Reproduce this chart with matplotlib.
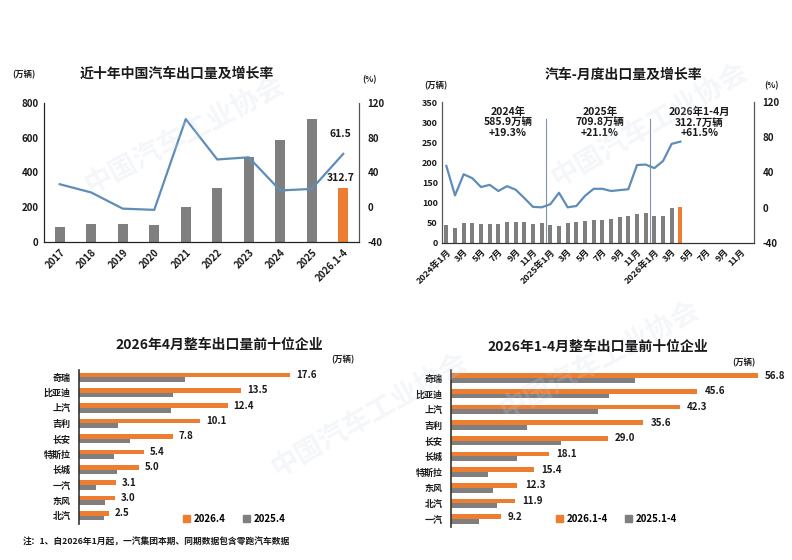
import numpy as np
import matplotlib
matplotlib.use("Agg")
import matplotlib.pyplot as plt
from matplotlib.patches import Patch

plt.rcParams['font.family'] = ['Noto Sans CJK SC', 'DejaVu Sans']
plt.rcParams['axes.unicode_minus'] = False

# ---- data ----
years = ['2017', '2018', '2019', '2020', '2021', '2022', '2023', '2024', '2025', '2026.1-4']
year_volume = [89, 104, 102, 99.5, 201.5, 311, 491, 585.9, 709.8, 312.7]
year_growth = [26.5, 17, -1.6, -3, 101.5, 55, 57.5, 19.3, 21.1, 61.5]

month_labels = []
for y in ['2024', '2025', '2026']:
    for m in range(1, 13):
        month_labels.append(f'{y}年{m}月' if m == 1 else f'{m}月')
month_volume = [44, 38, 50, 50, 48, 48, 46, 51, 53, 53, 48, 50,
                45, 43, 50, 51, 55, 58, 58, 60, 65, 66, 72, 75,
                68, 67, 88, 90]
month_growth = [47.5, 14, 38, 33.5, 23.5, 26, 19, 24.5, 20.5, 11, 1, 0.5,
                4, 17, 0.5, 2, 13.5, 21.5, 21.5, 19, 20, 21, 48.5, 49,
                45, 53, 72.5, 75]
period_notes = ['2024年\n585.9万辆\n+19.3%', '2025年\n709.8万辆\n+21.1%', '2026年1-4月\n312.7万辆\n+61.5%']

apr_names = ['奇瑞', '比亚迪', '上汽', '吉利', '长安', '特斯拉', '长城', '一汽', '东风', '北汽']
apr_2026 = [17.6, 13.5, 12.4, 10.1, 7.8, 5.4, 5.0, 3.1, 3.0, 2.5]
apr_2025 = [8.8, 7.85, 7.65, 3.25, 4.25, 2.95, 3.15, 1.45, 2.15, 2.05]

ytd_names = ['奇瑞', '比亚迪', '上汽', '吉利', '长安', '长城', '特斯拉', '东风', '北汽', '一汽']
ytd_2026 = [56.8, 45.6, 42.3, 35.6, 29.0, 18.1, 15.4, 12.3, 11.9, 9.2]
ytd_2025 = [34.1, 29.3, 27.2, 14.1, 20.4, 12.3, 6.9, 7.8, 8.5, 5.2]

GREY = '#7f7f7f'
ORANGE = '#ed7d31'
BLUE = '#5f8db8'
TXT = '#1a1a1a'

W, H = 792, 560
fig = plt.figure(figsize=(W / 100, H / 100), dpi=100)


def rect(x0, y0, x1, y1):
    return [x0 / W, 1 - y1 / H, (x1 - x0) / W, (y1 - y0) / H]


def ftext(x, y, s, **kw):
    fig.text(x / W, 1 - y / H, s, **kw)


# faint watermarks
for (wx, wy, rot) in [(185, 135, 28), (650, 125, 30), (370, 415, 30), (600, 360, 28)]:
    ftext(wx, wy, '中国汽车工业协会', fontsize=20, color='#c8d6e6', alpha=0.2,
          rotation=rot, ha='center', va='center', fontweight='bold', zorder=0)

# ---- chart 1: yearly ----
ax1 = fig.add_axes(rect(44, 103, 359, 242))
x = np.arange(len(years))
cols = [GREY] * (len(years) - 1) + [ORANGE]
ax1.bar(x, year_volume, width=0.32, color=cols, zorder=2)
ax1.set_xlim(-0.5, len(years) - 0.5)
ax1.set_ylim(0, 800)
ax1.set_yticks(range(0, 801, 200))
ax1.set_xticks(x)
ax1.set_xticklabels(years, rotation=45, ha='right', rotation_mode='anchor')
ax1.tick_params(length=0, labelsize=7, colors=TXT, pad=4)
for lab in ax1.get_xticklabels() + ax1.get_yticklabels():
    lab.set_fontweight('bold')
ax1b = ax1.twinx()
ax1b.plot(x, year_growth, color=BLUE, lw=1.6, zorder=3)
ax1b.set_ylim(-40, 120)
ax1b.set_yticks(range(-40, 121, 40))
ax1b.tick_params(length=0, labelsize=7, colors=TXT, pad=6)
for lab in ax1b.get_yticklabels():
    lab.set_fontweight('bold')
for a in (ax1, ax1b):
    a.spines['top'].set_visible(False)
    a.spines['left'].set_color('#222222')
    a.spines['bottom'].set_color('#222222')
    a.spines['right'].set_color('#555555')
    a.patch.set_alpha(0)
ax1b.annotate(f'{year_growth[-1]}', (x[-1], year_growth[-1]), xytext=(-2, 12),
              textcoords='offset points', ha='center', fontsize=7.5, fontweight='bold', color=TXT)
ax1.annotate(f'{year_volume[-1]}', (x[-1], year_volume[-1]), xytext=(-2, 5),
             textcoords='offset points', ha='center', fontsize=7.5, fontweight='bold', color=TXT)
ftext(177, 74, '近十年中国汽车出口量及增长率', fontsize=10, fontweight='bold', ha='center', va='center', color=TXT)
ftext(12, 75, '(万辆)', fontsize=6, fontweight='bold', ha='left', va='center', color=TXT)
ftext(362, 80, '(%)', fontsize=6, fontweight='bold', ha='left', va='center', color=TXT)

# ---- chart 2: monthly ----
ax2 = fig.add_axes(rect(442, 102, 754, 243))
mx = np.arange(len(month_volume))
mcols = [GREY] * (len(month_volume) - 1) + [ORANGE]
ax2.bar(mx, month_volume, width=0.45, color=mcols, zorder=2)
ax2.set_xlim(-0.5, len(month_labels) - 0.5)
ax2.set_ylim(0, 350)
ax2.set_yticks(range(0, 351, 50))
ax2.set_xticks(np.arange(0, len(month_labels), 2))
ax2.set_xticklabels(month_labels[::2], rotation=45, ha='right', rotation_mode='anchor')
ax2.tick_params(length=0, labelsize=6.5, colors=TXT, pad=3)
for lab in ax2.get_xticklabels() + ax2.get_yticklabels():
    lab.set_fontweight('bold')
for b in (11.5, 23.5):
    ax2.plot([b, b], [0, 308], color='#7d93ab', lw=0.8, zorder=1)
for cx, note in zip([7.1, 17.7, 29.2], period_notes):
    ax2.text(cx, 338, note, ha='center', va='top', fontsize=7.5, fontweight='bold',
             color=TXT, linespacing=1.05)
ax2b = ax2.twinx()
ax2b.plot(mx, month_growth, color=BLUE, lw=1.6, zorder=3)
ax2b.set_ylim(-40, 120)
ax2b.set_yticks(range(-40, 121, 40))
ax2b.tick_params(length=0, labelsize=7, colors=TXT, pad=6)
for lab in ax2b.get_yticklabels():
    lab.set_fontweight('bold')
for a in (ax2, ax2b):
    a.spines['top'].set_visible(False)
    a.spines['left'].set_color('#555555')
    a.spines['bottom'].set_color('#333333')
    a.spines['right'].set_color('#555555')
    a.patch.set_alpha(0)
ftext(623, 75, '汽车-月度出口量及增长率', fontsize=10, fontweight='bold', ha='center', va='center', color=TXT)
ftext(424, 86, '(万辆)', fontsize=6, fontweight='bold', ha='left', va='center', color=TXT)
ftext(764, 86, '(%)', fontsize=6, fontweight='bold', ha='left', va='center', color=TXT)


# ---- charts 3/4: top ten companies ----
def hbars(box, names, cur, prev, xmax, labels, legend_x):
    ax = fig.add_axes(rect(*box))
    pos = np.arange(len(names))
    ax.barh(pos - 0.15, cur, height=0.3, color=ORANGE, zorder=2)
    ax.barh(pos + 0.15, prev, height=0.3, color=GREY, zorder=2)
    for p, v in zip(pos, cur):
        ax.text(v + xmax * 0.022, p - 0.15, f'{v:.1f}', va='center', ha='left',
                fontsize=7, fontweight='bold', color=TXT)
    ax.set_ylim(len(names) - 0.5, -0.5)
    ax.set_xlim(0, xmax)
    ax.set_yticks(pos)
    ax.set_yticklabels(names)
    ax.set_xticks([])
    ax.tick_params(length=0, labelsize=6.5, colors=TXT, pad=6)
    for lab in ax.get_yticklabels():
        lab.set_fontweight('bold')
    for s in ('top', 'right', 'bottom'):
        ax.spines[s].set_visible(False)
    ax.spines['left'].set_color('#333333')
    ax.spines['left'].set_linewidth(1.2)
    ax.patch.set_alpha(0)
    handles = [Patch(color=ORANGE, label=labels[0]), Patch(color=GREY, label=labels[1])]
    fig.legend(handles=handles, loc='center left', ncol=2, frameon=False,
               bbox_to_anchor=(legend_x / W, 1 - 519 / H),
               handlelength=0.7, handleheight=0.7, handletextpad=0.4, columnspacing=1.8,
               prop={'weight': 'bold', 'size': 7})
    return ax


hbars((79, 369.5, 343, 523.5), apr_names, apr_2026, apr_2025, 22, ['2026.4', '2025.4'], 174)
ftext(219, 345, '2026年4月整车出口量前十位企业', fontsize=10, fontweight='bold', ha='center', va='center', color=TXT)
ftext(331, 360, '(万辆)', fontsize=6, fontweight='bold', ha='left', va='center', color=TXT)

hbars((451, 370.2, 786, 527), ytd_names, ytd_2026, ytd_2025, 62, ['2026.1-4', '2025.1-4'], 547)
ftext(598, 347, '2026年1-4月整车出口量前十位企业', fontsize=10, fontweight='bold', ha='center', va='center', color=TXT)
ftext(732, 363, '(万辆)', fontsize=6, fontweight='bold', ha='left', va='center', color=TXT)

ftext(23, 542, '注：1、自2026年1月起，一汽集团本期、同期数据包含零跑汽车数据', fontsize=6.3,
      fontweight='bold', ha='left', va='center', color=TXT)

fig.savefig('out.png', dpi=100, facecolor='white')
